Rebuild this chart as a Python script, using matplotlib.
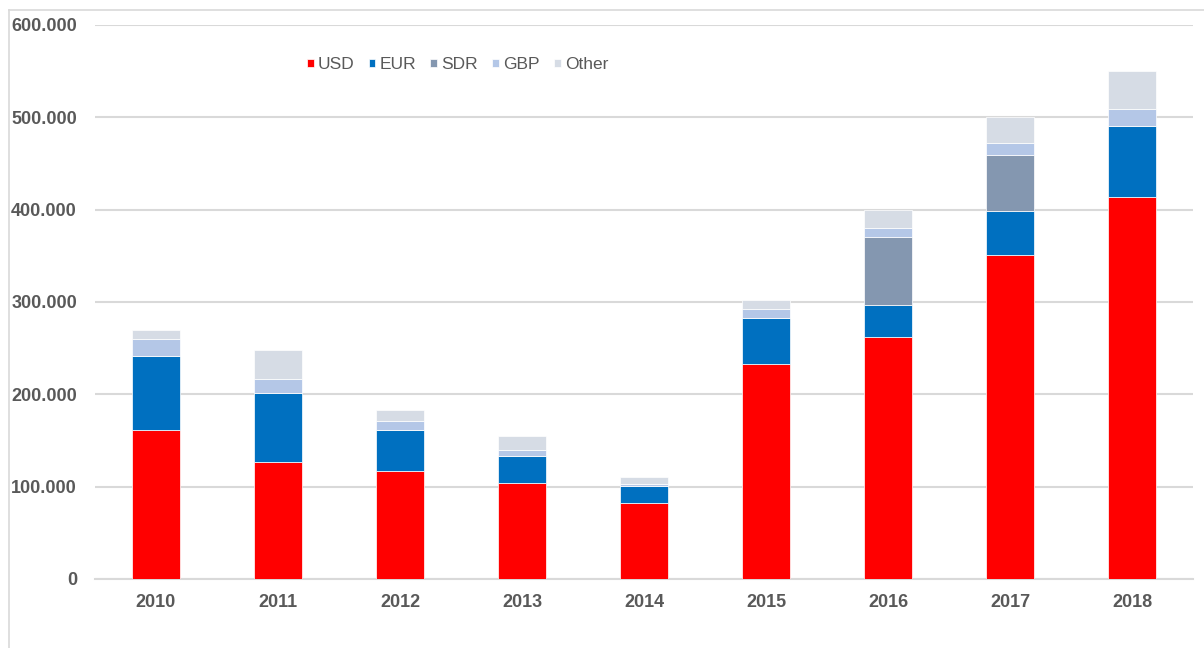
import matplotlib.pyplot as plt
import numpy as np
from matplotlib.lines import Line2D
from matplotlib.ticker import FuncFormatter, MultipleLocator


plt.rcParams["font.family"] = ["Liberation Sans", "DejaVu Sans"]

years = ["2010", "2011", "2012", "2013", "2014", "2015", "2016", "2017", "2018"]

# amounts in thousands
usd = [161.7, 126.8, 117.0, 104.0, 81.9, 233.3, 262.0, 351.0, 413.4]
eur = [79.3, 74.7, 44.7, 28.8, 18.4, 49.0, 34.4, 47.7, 77.7]
sdr = [0.0, 0.0, 0.0, 0.0, 0.0, 0.0, 73.6, 60.3, 0.0]
gbp = [19.0, 15.5, 9.0, 7.2, 3.0, 9.7, 9.9, 13.0, 17.4]
other = [10.0, 30.7, 12.0, 15.3, 7.2, 9.8, 19.4, 28.5, 42.1]

series = [
    ("USD", usd, "#FF0000"),
    ("EUR", eur, "#0070C0"),
    ("SDR", sdr, "#8497B0"),
    ("GBP", gbp, "#B4C7E7"),
    ("Other", other, "#D6DCE5"),
]

TEXT_COLOR = "#595959"
GRID_COLOR = "#D9D9D9"

fig = plt.figure(figsize=(12.04, 6.48), dpi=100)
ax = fig.add_axes([0.0789, 0.1065, 0.912, 0.855])

x = np.arange(len(years))
bottom = np.zeros(len(years))
for name, values, color in series:
    values = np.asarray(values) * 1000
    ax.bar(
        x,
        values,
        width=0.4,
        bottom=bottom,
        color=color,
        edgecolor="white",
        linewidth=0.5,
        label=name,
        zorder=3,
    )
    bottom += values

ax.set_xlim(-0.5, len(years) - 0.5)
ax.set_ylim(0, 600000)
ax.yaxis.set_major_locator(MultipleLocator(100000))
ax.yaxis.set_major_formatter(FuncFormatter(lambda v, _: f"{int(v):,}".replace(",", ".")))
ax.set_xticks(x)
ax.set_xticklabels(years)

ax.grid(True, axis="y", color=GRID_COLOR, linewidth=1.5, zorder=0)
for side in ["top", "right", "left"]:
    ax.spines[side].set_visible(False)
ax.spines["bottom"].set_color(GRID_COLOR)
ax.spines["bottom"].set_linewidth(1.5)

ax.tick_params(axis="both", length=0, labelsize=13, colors=TEXT_COLOR)
ax.tick_params(axis="x", pad=11)
ax.tick_params(axis="y", pad=13)
for label in ax.get_xticklabels() + ax.get_yticklabels():
    label.set_fontweight("bold")

ax.legend(
    loc="center",
    bbox_to_anchor=(0.380, 0.900),
    bbox_transform=fig.transFigure,
    ncol=5,
    frameon=False,
    fontsize=12.5,
    labelcolor=TEXT_COLOR,
    handlelength=0.4,
    handleheight=0.4,
    handletextpad=0.25,
    columnspacing=0.8,
)

# light frame along the top and left edge of the chart area
fig.add_artist(Line2D([9 / 1204, 9 / 1204], [0, 1 - 10 / 648], color=GRID_COLOR, linewidth=1.2))
fig.add_artist(Line2D([9 / 1204, 1], [1 - 10 / 648, 1 - 10 / 648], color=GRID_COLOR, linewidth=1.2))

fig.savefig("out.png", dpi=100, facecolor="white")
plt.close(fig)
